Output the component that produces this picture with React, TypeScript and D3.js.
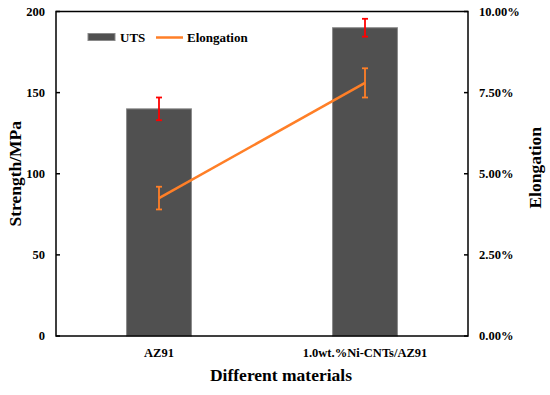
import React from "react";
import * as d3 from "d3";

const categories = ["AZ91", "1.0wt.%Ni-CNTs/AZ91"];
const utsValues = [140, 190];
const utsErrors = [7, 5.5];
const elongValues = [4.25, 7.8];
const elongErrors = [0.35, 0.45];
const leftTicks = [0, 50, 100, 150, 200];
const rightTicks = [0, 2.5, 5, 7.5, 10];

const W = 550;
const H = 395;
const M = { left: 56, right: 82, top: 11.5, bottom: 59 };
const FONT = '"Liberation Serif", "DejaVu Serif", serif';
const ORANGE = "#FF7F27";

export default function App() {
  const x = d3
    .scaleBand<string>()
    .domain(categories)
    .range([M.left, W - M.right])
    .paddingInner(0.685)
    .paddingOuter(0.3425);
  const yL = d3.scaleLinear().domain([0, 200]).range([H - M.bottom, M.top]);
  const yR = d3.scaleLinear().domain([0, 10]).range([H - M.bottom, M.top]);
  const cx = (c: string) => (x(c) as number) + x.bandwidth() / 2;
  const line = d3
    .line<number>()
    .x((_, i) => cx(categories[i]))
    .y((d) => yR(d));
  const x0 = M.left;
  const x1 = W - M.right;
  const yb = H - M.bottom;
  const yt = M.top;
  const ts = (size: number): React.CSSProperties => ({
    fontFamily: FONT,
    fontWeight: 700,
    fontSize: size,
  });

  return (
    <svg
      width={W}
      height={H}
      style={{ position: "absolute", left: 0, top: 0, background: "#fff" }}
    >
      {categories.map((c, i) => (
        <rect
          key={c}
          x={x(c)}
          y={yL(utsValues[i])}
          width={x.bandwidth()}
          height={yb - yL(utsValues[i])}
          fill="#505050"
          stroke="#8a8a8a"
          strokeWidth={1}
        />
      ))}
      {categories.map((c, i) => {
        const a = yL(utsValues[i] + utsErrors[i]);
        const b = yL(utsValues[i] - utsErrors[i]);
        const xc = cx(c);
        return (
          <g key={"e" + c} stroke="#FF0000" strokeWidth={1.8}>
            <line x1={xc} x2={xc} y1={a} y2={b} />
            <line x1={xc - 3} x2={xc + 3} y1={a} y2={a} />
            <line x1={xc - 3} x2={xc + 3} y1={b} y2={b} />
          </g>
        );
      })}
      <path d={line(elongValues) || ""} fill="none" stroke={ORANGE} strokeWidth={2.5} />
      {categories.map((c, i) => {
        const a = yR(elongValues[i] + elongErrors[i]);
        const b = yR(elongValues[i] - elongErrors[i]);
        const xc = cx(c);
        return (
          <g key={"el" + c} stroke={ORANGE} strokeWidth={1.8}>
            <line x1={xc} x2={xc} y1={a} y2={b} />
            <line x1={xc - 3} x2={xc + 3} y1={a} y2={a} />
            <line x1={xc - 3} x2={xc + 3} y1={b} y2={b} />
          </g>
        );
      })}
      <rect x={x0} y={yt} width={x1 - x0} height={yb - yt} fill="none" stroke="#000" strokeWidth={1.5} />
      {leftTicks.map((t) => (
        <g key={"l" + t}>
          <line x1={x0} x2={x0 + 4} y1={yL(t)} y2={yL(t)} stroke="#000" strokeWidth={1.5} />
          <text x={x0 - 11} y={yL(t)} dy="0.35em" textAnchor="end" style={ts(12.5)}>
            {t}
          </text>
        </g>
      ))}
      {rightTicks.map((t) => (
        <g key={"r" + t}>
          <line x1={x1 - 4} x2={x1} y1={yR(t)} y2={yR(t)} stroke="#000" strokeWidth={1.5} />
          <text x={x1 + 11} y={yR(t)} dy="0.35em" textAnchor="start" style={ts(12.5)}>
            {t.toFixed(2) + "%"}
          </text>
        </g>
      ))}
      {categories.map((c) => (
        <text key={"c" + c} x={cx(c)} y={yb + 21} textAnchor="middle" style={ts(12.5)}>
          {c}
        </text>
      ))}
      <text x={(x0 + x1) / 2 + 19} y={381} textAnchor="middle" style={ts(17.5)}>
        Different materials
      </text>
      <text
        transform={`translate(21, ${(yt + yb) / 2}) rotate(-90)`}
        textAnchor="middle"
        style={ts(17.5)}
      >
        Strength/MPa
      </text>
      <text
        transform={`translate(541, ${(yt + yb) / 2 - 6}) rotate(-90)`}
        textAnchor="middle"
        style={ts(17.5)}
      >
        Elongation
      </text>
      <rect x={88} y={33.5} width={27} height={7} fill="#505050" stroke="#8a8a8a" strokeWidth={1} />
      <text x={120} y={41.5} style={ts(13)}>
        UTS
      </text>
      <line x1={156} x2={183} y1={37.5} y2={37.5} stroke={ORANGE} strokeWidth={2.5} />
      <text x={187} y={41.5} style={ts(13)}>
        Elongation
      </text>
    </svg>
  );
}
